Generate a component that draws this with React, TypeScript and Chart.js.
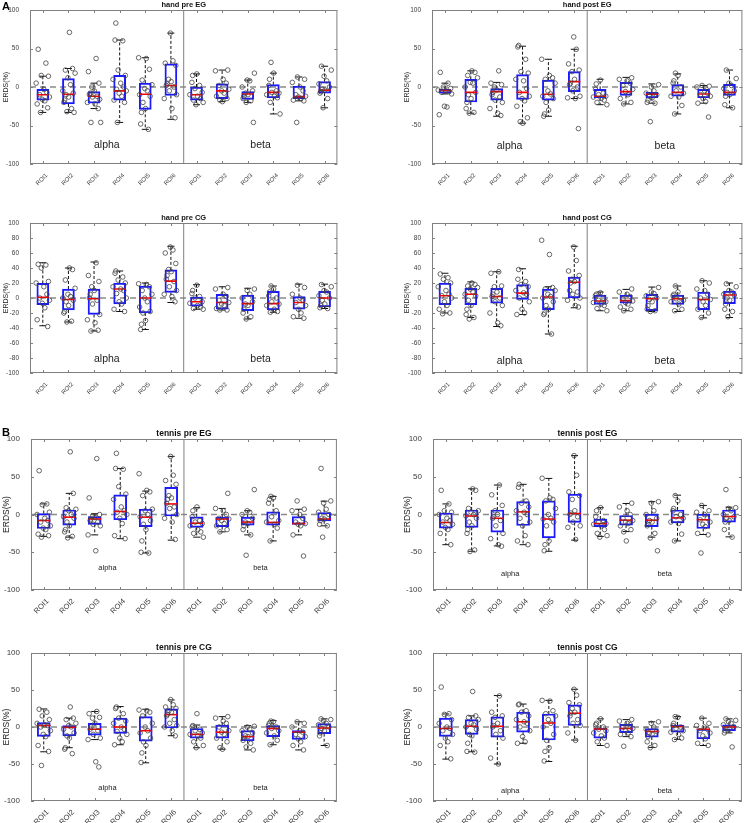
import React, { useEffect, useRef } from "react";
import { Chart, registerables } from "chart.js";
Chart.register(...registerables);

const ROI_LABELS = ["ROI1", "ROI2", "ROI3", "ROI4", "ROI5", "ROI6", "ROI1", "ROI2", "ROI3", "ROI4", "ROI5", "ROI6"];
const BAND_LABELS = ["alpha", "beta"];

// each box row: [lower whisker, q1, median, q3, upper whisker]
const handPreEG_box = [
  [-33, -17, -10, -3, 14], [-33, -22, -9.5, 11, 24], [-28, -21, -12, -6, 5], [-46, -17, -5, 15, 61],
  [-55, -29, -9.5, 5, 38], [-42, -11, 2, 30, 70], [-23, -17, -10, 0, 17], [-19, -15, -5, 4, 22],
  [-20, -16, -9, -6, 9], [-35, -14, -7, 3, 18], [-18, -15, -12.5, 1, 13], [-27, -8, -4, 7, 27],
];
const handPreEG_pts = [
  [49, 31, 15, 14, 5, -3, -7, -10, -13, -16, -18, -22, -27, -33],
  [71, 24, 22, 18, 12, 3, -5, -8, -10, -13, -17, -20, -28, -32, -33],
  [37, 20, 5, 0, -5, -8, -10, -12, -13, -16, -20, -22, -28, -46, -46],
  [83, 61, 60, 22, 15, 10, 5, 0, -3, -5, -8, -12, -17, -20, -46],
  [38, 37, 23, 9, 3, -2, -5, -10, -12, -20, -28, -33, -48, -55],
  [70, 34, 31, 28, 10, 7, 4, 2, 0, -5, -10, -15, -28, -40],
  [17, 15, 6, 2, -2, -7, -10, -12, -15, -17, -20, -23],
  [22, 21, 10, 5, 2, -3, -5, -8, -12, -15, -17, -19],
  [18, 9, 8, 0, -5, -8, -10, -12, -15, -18, -20, -46],
  [32, 18, 10, 2, -5, -7, -8, -10, -12, -14, -20, -35],
  [13, 10, 6, 0, -5, -10, -12, -13, -15, -17, -18, -46],
  [27, 22, 14, 8, 4, 0, -3, -4, -6, -8, -15, -27],
];

const handPostEG_box = [
  [-9, -8, -4.5, -3, 5], [-34, -19.5, -7, 10, 21], [-38, -17, -6, -2, 6], [-47, -16, -7, 16, 53],
  [-38, -17, -9.5, 9, 36], [-15, -6, 7, 20, 49], [-23, -14, -12, -3, 10], [-22, -11, -6, 6, 12.5],
  [-21, -14, -9.5, -7, 4], [-35, -12, -7, 3, 17], [-21, -14, -9, -3, 2], [-27, -11, -7, 3.5, 22],
];
const handPostEG_pts = [
  [19, 5, 0, -2, -4, -5, -6, -7, -9, -25, -26, -36],
  [21, 19, 15, 12, 6, 5, 0, -7, -10, -15, -20, -28, -33, -34],
  [21, 5, 3, 0, -4, -7, -10, -13, -17, -20, -28, -34, -37],
  [54, 52, 36, 20, 18, 10, 8, -2, -7, -12, -15, -18, -25, -40, -45, -47],
  [36, 15, 12, 10, 5, -5, -9, -12, -15, -20, -30, -35, -38],
  [65, 49, 30, 22, 20, 10, 5, 3, 0, -5, -12, -14, -15, -54],
  [9, 4, -3, -8, -10, -12, -13, -15, -17, -20, -23],
  [12, 10, 8, 5, 2, -3, -6, -10, -15, -20, -22],
  [3, 0, -5, -8, -10, -12, -14, -17, -20, -21, -45],
  [18, 15, 8, 5, 0, -5, -8, -12, -13, -24, -35],
  [2, 1, 0, -5, -8, -10, -12, -15, -19, -21, -39],
  [22, 11, 5, 2, -2, -5, -7, -10, -12, -23, -27],
];

const handPreCG_box = [
  [-37, -9, 1, 19.5, 47], [-32, -16, -2, 12, 40], [-44, -22, -1, 12, 48], [-18, -8, 12, 20, 36],
  [-42, -20, 0, 16, 20], [-6, 7.5, 22.5, 37.5, 69], [-15, -11, -5, 1.3, 17.7], [-16, -15, -6, 5, 15],
  [-28, -17, -7.5, 4, 13], [-19, -16, -7.5, 9, 16], [-27, -15, -6, 2, 18.5], [-14, -12, 0, 9, 18.5],
];
const handPreCG_pts = [
  [45, 44, 40, 22, 20, 15, 5, 0, -3, -7, -13, -29, -38],
  [40, 38, 24, 13, 5, 2, 0, -3, -5, -10, -18, -20, -31, -32],
  [47, 30, 22, 15, 10, 5, 0, -3, -8, -22, -29, -33, -43, -44],
  [36, 33, 28, 24, 20, 15, 12, 10, 6, 0, -5, -8, -15, -18],
  [19, 18, 15, 10, 5, 0, -5, -12, -18, -20, -30, -35, -42],
  [68, 64, 60, 46, 38, 35, 30, 25, 22, 15, 10, 5, 2, -5],
  [17, 10, 6, 2, 0, -5, -7, -10, -12, -14, -15],
  [14, 12, 5, 2, -3, -6, -8, -10, -14, -16, -16],
  [12, 10, 5, 0, -5, -8, -10, -15, -20, -25, -28],
  [16, 12, 8, 3, 0, -5, -8, -10, -15, -18, -19],
  [17, 14, 5, 0, -3, -6, -10, -15, -20, -25, -27],
  [18, 15, 10, 8, 3, 0, -3, -8, -10, -13, -14],
];

const handPostCG_box = [
  [-20, -9, 3, 20, 33], [-26, -9, 5, 13, 21.5], [-38, -7, 2, 13, 35], [-22, -2, 6.5, 18, 39],
  [-48, -15.5, 1.3, 12, 15], [-13, 0, 21, 28, 69], [-17, -8.5, -4, 4, 8], [-17, -7, -3.5, 4, 11.5],
  [-18, -17, -1, 5, 14.6], [-18, -8.5, -1, 4, 16], [-26.5, -15.5, -2, 8, 23], [-26, -7.5, 4, 9.3, 20],
];
const handPostCG_pts = [
  [32, 27, 25, 20, 15, 10, 5, 3, 0, -5, -10, -15, -20, -21],
  [20, 18, 16, 14, 12, 8, 5, 3, -3, -10, -15, -22, -26, -28],
  [35, 33, 16, 15, 8, 5, 2, 0, -5, -10, -20, -33, -37],
  [38, 25, 22, 18, 15, 10, 7, 5, 0, -5, -15, -20, -22],
  [77, 58, 14, 12, 10, 5, 2, 0, -5, -10, -15, -20, -22, -48],
  [68, 50, 36, 30, 25, 22, 20, 10, 8, 5, 0, -3, -10, -12],
  [7, 5, 3, 0, -3, -5, -6, -8, -10, -14, -17],
  [12, 8, 5, 2, -1, -4, -6, -8, -12, -15, -17],
  [14, 8, 6, 3, 0, -2, -5, -10, -15, -17, -18],
  [16, 8, 5, 3, 0, -1, -3, -5, -8, -15, -17],
  [23, 20, 12, 10, 5, 0, -2, -5, -10, -15, -20, -26],
  [19, 15, 10, 8, 5, 4, 0, -3, -8, -15, -18, -25],
];

const tennisPreEG_box = [
  [-29, -18.6, -8, 1.3, 14], [-30, -14, -3.5, 6, 28], [-27, -13, -6, -2.7, 1], [-32, -7, 4, 26, 61],
  [-51, -16, -3.5, 7, 31], [-34, -2, 14, 36, 77], [-30, -17, -11.5, -3, 9], [-23, -16, -6, -3.5, 8],
  [-27, -14, -10, -3.5, 5], [-35, -14, -10.5, 3.5, 24], [-27, -13, -12, -2.7, 7], [-15, -8.4, -6, 2.7, 17.7],
];
const tennisPreEG_pts = [
  [58, 14, 13, 3, 0, -5, -8, -10, -15, -18, -20, -26, -28, -30],
  [83, 28, 9, 7, 5, 0, -3, -5, -10, -15, -20, -23, -29, -31],
  [74, 22, 0, -2, -4, -6, -8, -10, -13, -15, -27, -48],
  [81, 61, 60, 37, 27, 20, 10, 5, 3, 0, -5, -12, -28, -32],
  [54, 32, 30, 25, 7, 5, 0, -3, -8, -13, -20, -35, -50, -51],
  [77, 52, 45, 40, 25, 22, 20, 15, 10, 8, 0, -5, -10, -33],
  [10, 5, -3, -8, -10, -12, -15, -20, -23, -25, -30],
  [28, 8, 5, 0, -5, -6, -8, -12, -15, -20, -23],
  [33, 5, 3, 0, -5, -10, -12, -15, -20, -27, -54],
  [24, 22, 20, 15, 5, -3, -8, -10, -13, -18, -35],
  [18, 7, 5, 0, -5, -10, -12, -13, -15, -27, -55],
  [61, 18, 15, 7, 3, 0, -5, -6, -8, -13, -15, -30],
];

const tennisPostEG_box = [
  [-40, -18, -10.6, 2, 14], [-48.7, -17, -2, 6, 34], [-41.6, -23.5, -5, 6, 39], [-40, -14.6, 3.5, 17, 40],
  [-48.7, -31, -6, 18, 47.8], [-34, -10.6, 1.3, 27, 78], [-29, -16, -12, -6, 9], [-22.6, -14, -7.5, -1.3, 14.6],
  [-30, -16, -7.5, 0.4, 17], [-35, -11, -4.5, 6, 25.6], [-26.5, -18.6, -7, 0.4, 12], [-29.6, -10, -2.7, 6, 9.7],
];
const tennisPostEG_pts = [
  [32, 14, 5, 3, 0, -5, -8, -10, -13, -17, -20, -25, -40],
  [34, 32, 8, 5, 3, 0, -2, -5, -10, -15, -20, -25, -47, -49],
  [39, 26, 12, 5, 0, -3, -5, -8, -15, -25, -32, -40, -42],
  [40, 36, 18, 15, 10, 5, 3, 0, -5, -10, -15, -28, -35, -40],
  [48, 22, 20, 18, 8, 0, -5, -6, -10, -15, -35, -40, -48],
  [78, 52, 30, 25, 20, 5, 2, 0, -3, -10, -15, -17, -33],
  [9, 5, -3, -8, -10, -12, -13, -15, -20, -25, -28, -30],
  [15, 10, 5, 0, -5, -8, -10, -12, -15, -20, -23, -35],
  [17, 15, 5, 0, -5, -8, -10, -13, -15, -25, -31, -48],
  [25, 18, 8, 5, 0, -3, -5, -10, -12, -26, -35],
  [12, 5, 3, 0, -5, -7, -10, -13, -16, -25, -27, -51],
  [33, 9, 8, 5, 0, -3, -5, -8, -10, -20, -30],
];

const tennisPreCG_box = [
  [-33.5, -12.7, 2, 6, 24.4], [-28, -12, -0.5, 2, 12], [-17, -11, -3, 5, 21], [-24, -8.6, 0, 12, 27.6],
  [-48.4, -19, -5, 14, 24], [-11.8, -1.4, 16.7, 24.4, 36.6], [-28, -15, -10, -2, 2.7], [-30, -15, -7, 2.7, 14],
  [-31, -18.6, -13, -5, 1.8], [-24, -13, -2, 2, 8.6], [-31, -16.7, -7, -5, 7], [-25, -9, -1.4, 4.5, 11],
];
const tennisPreCG_pts = [
  [24, 20, 15, 10, 5, 3, 2, 0, -5, -10, -13, -25, -33, -52],
  [27, 12, 10, 5, 2, 0, -3, -8, -12, -15, -28, -30, -36],
  [21, 18, 13, 12, 5, 0, -3, -5, -10, -15, -17, -47, -54],
  [27, 25, 18, 12, 8, 5, 0, -3, -6, -10, -15, -20, -24],
  [23, 22, 20, 15, 5, 0, -5, -8, -15, -20, -25, -35, -48],
  [37, 30, 27, 25, 22, 20, 17, 15, 10, 5, 2, 0, -5, -12],
  [18, 2, 0, -3, -5, -8, -10, -12, -15, -20, -25, -28],
  [14, 12, 8, 5, 0, -5, -7, -10, -15, -20, -28, -30],
  [1, 0, -3, -5, -8, -12, -13, -15, -18, -22, -27, -31],
  [8, 7, 5, 2, 0, -2, -5, -8, -12, -18, -24],
  [7, 5, 0, -5, -7, -10, -13, -16, -20, -25, -31],
  [11, 10, 8, 5, 3, 0, -2, -5, -8, -12, -25],
];

const tennisPostCG_box = [
  [-43.4, -12.7, -2, 12, 17.6], [-33.5, -10, 1, 10, 15], [-50, -13.6, 1, 13.6, 42.5], [-22, -7, 7, 20, 31],
  [-46.6, -17.6, 5.4, 17.6, 36], [-17.6, 2, 18.6, 30, 51], [-25, -15, -2.7, -1.4, 11], [-13, -7.7, -2, 3.6, 10],
  [-27.6, -13.6, -6, -2, 7], [-16.7, -7, 0.5, 2.7, 14], [-25, -16, -3, -2.7, 12], [-8, -5, 0, 3, 11],
];
const tennisPostCG_pts = [
  [54, 18, 17, 10, 5, 0, -2, -5, -10, -15, -20, -25, -43],
  [48, 15, 13, 10, 5, 3, 0, -3, -10, -12, -22, -33, -34],
  [42, 20, 15, 13, 5, 2, 0, -5, -10, -15, -42, -50],
  [31, 30, 22, 20, 15, 10, 7, 5, 0, -5, -13, -20, -22],
  [36, 35, 22, 18, 15, 10, 5, 0, -10, -18, -28, -33, -46],
  [51, 43, 33, 30, 25, 20, 19, 15, 10, 5, 2, -8, -18],
  [11, 5, 3, 0, -3, -5, -8, -12, -15, -20, -25],
  [10, 8, 5, 3, 0, -2, -5, -8, -10, -13, -26],
  [7, 5, 0, -3, -6, -8, -10, -13, -20, -25, -28],
  [14, 13, 5, 2, 0, -2, -5, -7, -10, -15, -17],
  [12, 5, 2, 0, -3, -5, -8, -12, -16, -22, -25],
  [11, 9, 7, 5, 3, 0, -2, -3, -5, -8, -27],
];

// fixed horizontal jitter pattern (in category units) for the scatter overlay
const JITTER = [-0.18, 0.12, -0.06, 0.22, -0.26, 0.04, 0.16, -0.12, 0.26, -0.02, 0.08, -0.22, 0.19, -0.09, 0.01, -0.15];

const FONT = '"Liberation Sans", Arial, sans-serif';
const TEXT = "#3a3a3a";
const AXIS = "#808080";

const STYLE_A = { yTick: 6.5, xTick: 6, axisTitle: 7, title: 7.5, band: 10.5, boxW: 12, xPad: 0, xOff: 4 };
const STYLE_B = { yTick: 8, xTick: 7.5, axisTitle: 8.5, title: 8.5, band: 7.5, boxW: 13, xPad: -1, xOff: 4 };

const PANELS = [
  { box: handPreEG_box, pts: handPreEG_pts, title: "hand pre EG", left: 0, top: 0, w: 345, h: 190, padLeft: 0, yW: 30, padTop: 10, padRight: 5, xH: 26, step: 50, st: STYLE_A, bandY: -75 },
  { box: handPostEG_box, pts: handPostEG_pts, title: "hand post EG", left: 375, top: 0, w: 375, h: 190, padLeft: 26, yW: 31, padTop: 10, padRight: 3, xH: 26, step: 50, st: STYLE_A, bandY: -77 },
  { box: handPreCG_box, pts: handPreCG_pts, title: "hand pre CG", left: 0, top: 200, w: 345, h: 200, padLeft: 0, yW: 30, padTop: 23, padRight: 5, xH: 27, step: 20, st: STYLE_A, bandY: -82 },
  { box: handPostCG_box, pts: handPostCG_pts, title: "hand post CG", left: 375, top: 200, w: 375, h: 200, padLeft: 26, yW: 31, padTop: 23, padRight: 3, xH: 27, step: 20, st: STYLE_A, bandY: -84 },
  { box: tennisPreEG_box, pts: tennisPreEG_pts, title: "tennis pre EG", left: 0, top: 410, w: 345, h: 210, padLeft: 0, yW: 31, padTop: 29, padRight: 4, xH: 30, step: 50, st: STYLE_B, bandY: -71 },
  { box: tennisPostEG_box, pts: tennisPostEG_pts, title: "tennis post EG", left: 375, top: 410, w: 375, h: 210, padLeft: 26, yW: 32, padTop: 29, padRight: 2, xH: 30, step: 50, st: STYLE_B, bandY: -79 },
  { box: tennisPreCG_box, pts: tennisPreCG_pts, title: "tennis pre CG", left: 0, top: 620, w: 345, h: 203, padLeft: 0, yW: 31, padTop: 33, padRight: 4, xH: 22, step: 50, st: STYLE_B, bandY: -83 },
  { box: tennisPostCG_box, pts: tennisPostCG_pts, title: "tennis post CG", left: 375, top: 620, w: 375, h: 203, padLeft: 26, yW: 32, padTop: 33, padRight: 3, xH: 22, step: 50, st: STYLE_B, bandY: -86 },
];

const decorPlugin = {
  id: "decor",
  afterDraw(chart: any, _args: any, opts: any) {
    const { ctx, chartArea: a, scales } = chart;
    const x = scales.x, y = scales.y;
    ctx.save();
    ctx.strokeStyle = AXIS;
    ctx.lineWidth = 1;
    ctx.strokeRect(a.left + 0.5, a.top + 0.5, a.right - a.left - 1, a.bottom - a.top - 1);
    ctx.beginPath();
    y.ticks.forEach((t: any) => {
      const py = Math.round(y.getPixelForValue(t.value)) + 0.5;
      ctx.moveTo(a.left, py); ctx.lineTo(a.left + 3, py);
      ctx.moveTo(a.right, py); ctx.lineTo(a.right - 3, py);
    });
    x.ticks.forEach((t: any) => {
      const px = Math.round(x.getPixelForValue(t.value)) + 0.5;
      ctx.moveTo(px, a.bottom); ctx.lineTo(px, a.bottom - 3);
      ctx.moveTo(px, a.top); ctx.lineTo(px, a.top + 3);
    });
    ctx.stroke();
    ctx.fillStyle = "#111";
    ctx.font = `bold ${opts.titleSize}px ${FONT}`;
    ctx.textAlign = "center";
    ctx.textBaseline = "bottom";
    ctx.fillText(opts.title, (a.left + a.right) / 2, a.top - 1);
    ctx.fillStyle = "#222";
    ctx.font = `${opts.bandSize}px ${FONT}`;
    ctx.textBaseline = "middle";
    BAND_LABELS.forEach((b, i) => {
      ctx.fillText(b, x.getPixelForValue(3.5 + i * 6), y.getPixelForValue(opts.bandY));
    });
    ctx.restore();
  },
};

function Panel({ p }: { p: any }) {
  const ref = useRef<HTMLCanvasElement>(null);
  useEffect(() => {
    const box: number[][] = p.box;
    const pts: number[][] = p.pts;
    const whiskers: any[] = [];
    const caps: any[] = [];
    box.forEach((b, i) => {
      const x = i + 1;
      whiskers.push({ x, y: b[3] }, { x, y: b[4] }, { x, y: null }, { x, y: b[1] }, { x, y: b[0] }, { x, y: null });
      caps.push({ x, y: b[4] }, { x, y: b[0] });
    });
    const scatter: any[] = [];
    pts.forEach((arr, i) => {
      arr.forEach((v, j) => {
        scatter.push({ x: i + 1 + JITTER[(j + i * 5) % JITTER.length], y: v });
      });
    });
    const chart = new Chart(ref.current as HTMLCanvasElement, {
      type: "scatter",
      data: {
        datasets: [
          {
            type: "scatter", data: scatter, order: 1,
            pointRadius: 2.3, pointBorderColor: "#444", pointBackgroundColor: "rgba(0,0,0,0)", pointBorderWidth: 0.8,
          } as any,
          {
            type: "scatter", data: box.map((b, i) => ({ x: i + 1, y: b[2] })), order: 2,
            pointStyle: "line", pointRadius: p.st.boxW / 2, pointBorderColor: "#ff0000", pointBorderWidth: 1.6,
          },
          {
            type: "bar", data: box.map((b, i) => ({ x: i + 1, y: [b[1], b[3]] })), order: 3,
            backgroundColor: "rgba(0,0,0,0)", borderColor: "#1a1aff", borderWidth: 1.3, borderSkipped: false,
            barThickness: p.st.boxW,
          },
          {
            type: "scatter", data: caps, order: 4,
            pointStyle: "line", pointRadius: 3.5, pointBorderColor: "#111", pointBorderWidth: 1,
          },
          {
            type: "line", data: whiskers, order: 5, spanGaps: false,
            borderColor: "#111", borderWidth: 1, borderDash: [3, 2], pointRadius: 0,
          },
          {
            type: "line", data: [{ x: 6.5, y: -100 }, { x: 6.5, y: 100 }], order: 6,
            borderColor: AXIS, borderWidth: 1, pointRadius: 0,
          },
          {
            type: "line", data: [{ x: 0.5, y: 0 }, { x: 12.5, y: 0 }], order: 7,
            borderColor: "#8a8a8a", borderWidth: 1.3, borderDash: [6, 4], pointRadius: 0,
          },
        ],
      },
      options: {
        animation: false,
        responsive: false,
        events: [],
        layout: { padding: { top: p.padTop, right: p.padRight, left: p.padLeft, bottom: 0 } },
        plugins: {
          legend: { display: false },
          tooltip: { enabled: false },
          decor: { title: p.title, titleSize: p.st.title, bandSize: p.st.band, bandY: p.bandY },
        } as any,
        scales: {
          x: {
            type: "linear", min: 0.5, max: 12.5, offset: false,
            afterBuildTicks: (s: any) => { s.ticks = ROI_LABELS.map((_, i) => ({ value: i + 1 })); },
            afterFit: (s: any) => { s.height = p.xH; },
            grid: { display: false }, border: { display: false },
            ticks: {
              autoSkip: false, minRotation: 45, maxRotation: 45, padding: p.st.xPad, labelOffset: p.st.xOff,
              font: { family: FONT, size: p.st.xTick }, color: TEXT,
              callback: (v: any) => ROI_LABELS[Math.round(Number(v)) - 1] ?? "",
            },
          },
          y: {
            min: -100, max: 100,
            afterFit: (s: any) => { s.width = p.yW; },
            grid: { display: false }, border: { display: false },
            ticks: { stepSize: p.step, padding: 3, font: { family: FONT, size: p.st.yTick }, color: TEXT },
            title: { display: true, text: "ERDS(%)", color: "#222", font: { family: FONT, size: p.st.axisTitle }, padding: { top: 2, bottom: 0 } },
          },
        },
      } as any,
      plugins: [decorPlugin as any],
    });
    return () => chart.destroy();
  }, []);
  return (
    <canvas
      ref={ref}
      width={p.w}
      height={p.h}
      style={{ position: "absolute", left: p.left, top: p.top, width: p.w, height: p.h, display: "block" }}
    />
  );
}

export default function App() {
  return (
    <div style={{ position: "absolute", left: 0, top: 0, width: 750, height: 823, background: "#fff", overflow: "hidden" }}>
      {PANELS.map((p, i) => (
        <Panel key={i} p={p} />
      ))}
      <div style={{ position: "absolute", left: 2, top: 0, font: `bold 11px ${FONT}`, color: "#000" }}>A</div>
      <div style={{ position: "absolute", left: 2, top: 426, font: `bold 11px ${FONT}`, color: "#000" }}>B</div>
    </div>
  );
}
